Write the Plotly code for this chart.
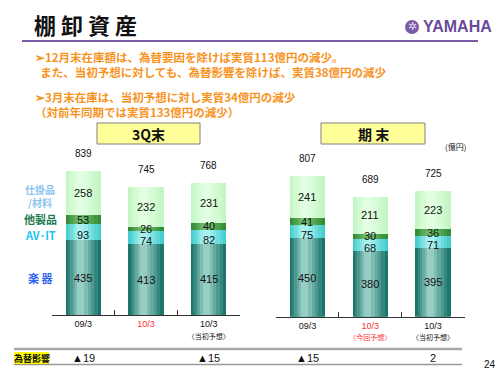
import numpy as np
import plotly.graph_objects as go

# ---------------- data ----------------
categories = ["09/3", "10/3", "10/3 当初予想"]
q3_gakki = [435, 413, 415]
q3_avit = [93, 74, 82]
q3_other = [53, 26, 40]
q3_wip = [258, 232, 231]
q3_total = [839, 745, 768]

fy_gakki = [450, 380, 395]
fy_avit = [75, 68, 71]
fy_other = [41, 30, 36]
fy_wip = [241, 211, 223]
fy_total = [807, 689, 725]

fx_q3 = ["▲19", "", "▲15"]
fx_fy = ["▲15", "", "2"]

tick_q3 = ["09/3", "<span style='color:#ff3333'>10/3</span>",
           "10/3<br><span style='font-size:7px'>〈当初予想〉</span>"]
tick_fy = ["09/3",
           "<span style='color:#ff3333'>10/3<br><span style='font-size:7px'>〈今回予想〉</span></span>",
           "10/3<br><span style='font-size:7px'>〈当初予想〉</span>"]

# --------------- styles ---------------
W, H = 500, 375
NUM_FONT = "Liberation Sans, Arial, Noto Sans CJK JP"
JP_FONT = "Noto Sans CJK JP, Liberation Sans"
ORANGE = "#f7931e"

seg_colors = [  # (edge, center)
    ((28, 118, 108), (150, 205, 196)),   # 楽器
    ((70, 205, 205), (170, 242, 242)),   # AV・IT
    ((52, 140, 52), (110, 190, 110)),    # 他製品
    ((196, 246, 196), (226, 255, 226)),  # 仕掛品/材料
]
label_shift = [0, -3, 0, 0]


def lerp(a, b, t):
    return "rgb(%d,%d,%d)" % tuple(int(round(a[i] + (b[i] - a[i]) * t)) for i in range(3))


def px_x(p):
    return p / W


def px_y(p):
    return 1 - p / H


fig = go.Figure()


def note(x, y, text, size, color="#111", family=JP_FONT, xanchor="center", **kw):
    fig.add_annotation(x=px_x(x), y=px_y(y), xref="paper", yref="paper", showarrow=False,
                       xanchor=xanchor, yanchor="middle", text=text,
                       font=dict(family=family, size=size, color=color), **kw)


BAR_W = 0.56
LAYERS = 6


def add_chart(series, totals, xa, ya):
    yref = ya.replace("axis", "")
    cum = np.cumsum(np.array(series), axis=0)
    bases = np.vstack([np.zeros(len(categories)), cum[:-1]])
    for si, vals in enumerate(series):
        edge, center = seg_colors[si]
        for k in range(LAYERS):
            t = k / (LAYERS - 1)
            w = BAR_W * (1 - 0.8 * t)
            fig.add_trace(go.Bar(
                x=categories, y=vals, base=bases[si], width=w,
                offset=-w / 2 - 0.04 * t,
                marker=dict(color=lerp(edge, center, t), line=dict(width=0)),
                opacity=1, xaxis=xa, yaxis=ya, showlegend=False, hoverinfo="skip"))
        mids = bases[si] + np.array(vals) / 2
        for c, m, v in zip(categories, mids, vals):
            fig.add_annotation(x=c, y=m, text=str(v), xref=xa, yref=yref,
                               xanchor="center", yanchor="middle",
                               yshift=label_shift[si], showarrow=False,
                               font=dict(family=NUM_FONT, size=11, color="#111"))
    for c, t in zip(categories, totals):
        fig.add_annotation(x=c, y=t, text=str(t), xref=xa, yref=yref,
                           xanchor="center", yanchor="bottom", yshift=10, showarrow=False,
                           font=dict(family=NUM_FONT, size=10, color="#111"))


add_chart([q3_gakki, q3_avit, q3_other, q3_wip], q3_total, "x", "y")
add_chart([fy_gakki, fy_avit, fy_other, fy_wip], fy_total, "x2", "y2")

axis_common = dict(type="category", showline=True, linecolor="#333", linewidth=1,
                   ticks="inside", ticklen=5, tickcolor="#333", tickson="boundaries",
                   range=[-0.5, 2.5], showgrid=False, zeroline=False, fixedrange=True,
                   tickfont=dict(family=NUM_FONT, size=9, color="#111"),
                   tickvals=categories)
fig.update_layout(
    width=W, height=H, margin=dict(l=0, r=0, t=0, b=0),
    paper_bgcolor="white", plot_bgcolor="rgba(0,0,0,0)",
    barmode="overlay", bargap=0,
    xaxis=dict(axis_common, domain=[px_x(52), px_x(240)], anchor="y", ticktext=tick_q3),
    xaxis2=dict(axis_common, domain=[px_x(276), px_x(464.5)], anchor="y2", ticktext=tick_fy),
    yaxis=dict(domain=[px_y(315), px_y(150)], range=[0, 961], visible=False, fixedrange=True),
    yaxis2=dict(domain=[px_y(316.7), px_y(150)], range=[0, 959], visible=False, fixedrange=True),
)

# ---- header ----
note(32, 24, "<b>棚 卸 資 産</b>", 22, xanchor="left")
fig.add_shape(type="circle", xref="paper", yref="paper",
              x0=px_x(405), x1=px_x(419), y0=px_y(34), y1=px_y(20),
              fillcolor="#7b5aa6", line=dict(width=0))
note(412, 27, "✲", 11, color="#e6dcf0", family="DejaVu Sans")
note(421, 27, "<b>YAMAHA</b>", 16, color="#6b4a9b",
     family="Liberation Sans Narrow, Liberation Sans", xanchor="left")
fig.add_shape(type="line", xref="paper", yref="paper", x0=px_x(22), x1=px_x(478),
              y0=px_y(41), y1=px_y(41), line=dict(color="#7a5ba8", width=2))

bullets = [
    (33, 64.5, "➢12月末在庫額は、為替要因を除けば実質113億円の減少。<br>"
               "&nbsp;&nbsp;また、当初予想に対しても、為替影響を除けば、実質38億円の減少"),
    (33, 104, "➢3月末在庫は、当初予想に対し実質34億円の減少<br>"
              "（対前年同期では実質133億円の減少）"),
]
for bx, by, bt in bullets:
    note(bx, by, "<b>" + bt + "</b>", 11.5, color=ORANGE, xanchor="left", align="left")

# ---- section boxes ----
for x0, x1, label in [(97, 200, "3Q末"), (321, 425, "期 末")]:
    fig.add_shape(type="rect", xref="paper", yref="paper", x0=px_x(x0), x1=px_x(x1),
                  y0=px_y(144), y1=px_y(123), fillcolor="#ffff99",
                  line=dict(color="#808080", width=1))
    note((x0 + x1) / 2, 133.5, "<b>" + label + "</b>", 14)
note(455, 146, "(億円)", 8)

# ---- series labels ----
for ly, lt, lc, ls in [(195.5, "仕掛品<br>/材料", "#8cc4f0", 10),
                       (219, "他製品", "#1e7a4e", 11), (235, "AV･IT", "#22c4f0", 11),
                       (278, "楽 器", "#2f64f0", 11)]:
    note(40, ly, "<b>" + lt + "</b>", ls, color=lc)

# ---- FX row ----
fig.add_shape(type="line", xref="paper", yref="paper", x0=px_x(14), x1=px_x(462),
              y0=px_y(349), y1=px_y(349), line=dict(color="#aaaaaa", width=2.5))
fig.add_shape(type="line", xref="paper", yref="paper", x0=px_x(14), x1=px_x(462),
              y0=px_y(364.5), y1=px_y(364.5), line=dict(color="#999999", width=1.5))
fig.add_shape(type="rect", xref="paper", yref="paper", x0=px_x(14), x1=px_x(49),
              y0=px_y(364), y1=px_y(352), fillcolor="#ffff00", line=dict(width=0))
note(31.5, 358, "<b>為替影響</b>", 9)
for xa, vals in [("x", fx_q3), ("x2", fx_fy)]:
    for c, v in zip(categories, vals):
        if v:
            fig.add_annotation(x=c, y=px_y(357.5), xref=xa, yref="paper", showarrow=False,
                               xanchor="center", yanchor="middle", text=v,
                               font=dict(family=NUM_FONT, size=11, color="#111"))
note(490, 364, "24", 10, family=NUM_FONT)

fig.write_html("out.html", config={"displayModeBar": False},
               post_script="document.body.style.margin='0';")
